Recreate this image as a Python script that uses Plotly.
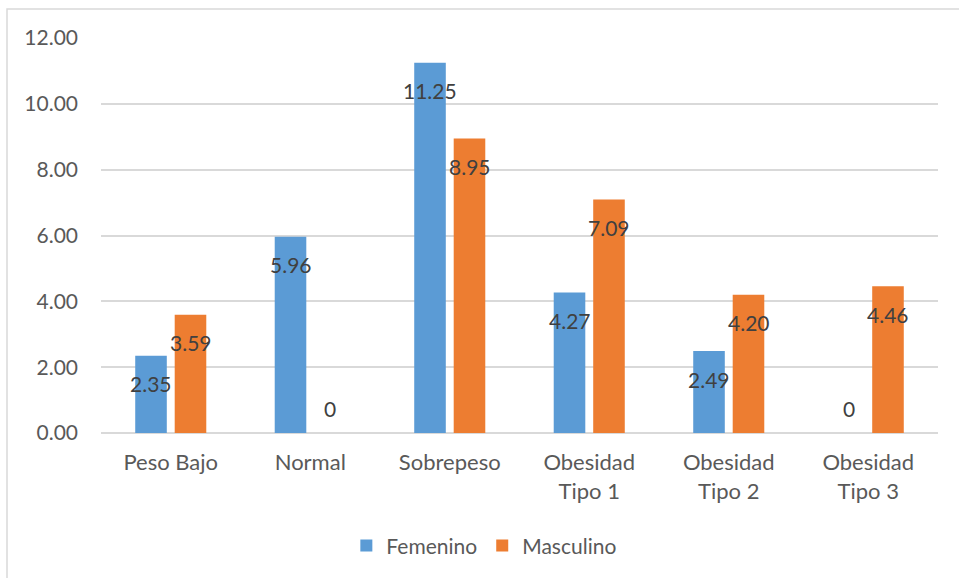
import plotly.graph_objects as go

# Categories and values per sex
categorias = ["Peso Bajo", "Normal", "Sobrepeso", "Obesidad<br>Tipo 1", "Obesidad<br>Tipo 2", "Obesidad<br>Tipo 3"]
femenino = [2.35, 5.96, 11.25, 4.27, 2.49, 0]
masculino = [3.59, 0, 8.95, 7.09, 4.20, 4.46]
y_ticks = [0, 2, 4, 6, 8, 10, 12]
y_tick_labels = ["0.00", "2.00", "4.00", "6.00", "8.00", "10.00", "12.00"]

AZUL = "#5B9BD5"
NARANJA = "#ED7D31"
FONT = "Lato"
SIZE = 21

fig = go.Figure()
fig.add_trace(go.Bar(name="Femenino", x=categorias, y=femenino,
                     marker=dict(color=AZUL, line=dict(width=0))))
fig.add_trace(go.Bar(name="Masculino", x=categorias, y=masculino,
                     marker=dict(color=NARANJA, line=dict(width=0))))


def etiqueta(v):
    return "0" if v == 0 else f"{v:.2f}"


# Value labels just inside the top of each bar (above the baseline for zeros)
anotaciones = []
for serie, desplaz in ((femenino, -19.75), (masculino, 19.75)):
    for cat, v in zip(categorias, serie):
        anotaciones.append(dict(
            x=cat, y=v, xref="x", yref="y", text=etiqueta(v), showarrow=False,
            xshift=desplaz, yshift=25 if v == 0 else -28,
            font=dict(family=FONT, size=SIZE, color="#404040")))

fig.update_layout(
    width=959, height=578,
    margin=dict(l=101, r=21, t=38, b=145),
    paper_bgcolor="white", plot_bgcolor="white",
    barmode="group", bargap=0.434, bargroupgap=0.2,
    font=dict(family=FONT, size=SIZE, color="#595959"),
    annotations=anotaciones,
    legend=dict(orientation="h", x=0.458, xanchor="center", y=-0.286, yanchor="middle",
                font=dict(family=FONT, size=SIZE, color="#595959"), itemwidth=30),
    shapes=[dict(type="rect", xref="paper", yref="paper",
                 x0=-0.1123, x1=1.2, y0=-0.5, y1=1.0734,
                 line=dict(color="#D9D9D9", width=1.5), fillcolor="rgba(0,0,0,0)")],
)
fig.update_xaxes(showgrid=False, showline=False, zeroline=False, ticks="",
                 ticklabelstandoff=14,
                 tickfont=dict(family=FONT, size=SIZE + 1, color="#595959"))
fig.update_yaxes(range=[0, 12], tickvals=y_ticks, ticktext=y_tick_labels,
                 showgrid=True, gridcolor="#D9D9D9", gridwidth=1.5,
                 zeroline=True, zerolinecolor="#D9D9D9", zerolinewidth=1.5,
                 showline=False, ticks="", ticklabelstandoff=22,
                 tickfont=dict(family=FONT, size=SIZE, color="#595959"))

fig.write_html("out.html")
